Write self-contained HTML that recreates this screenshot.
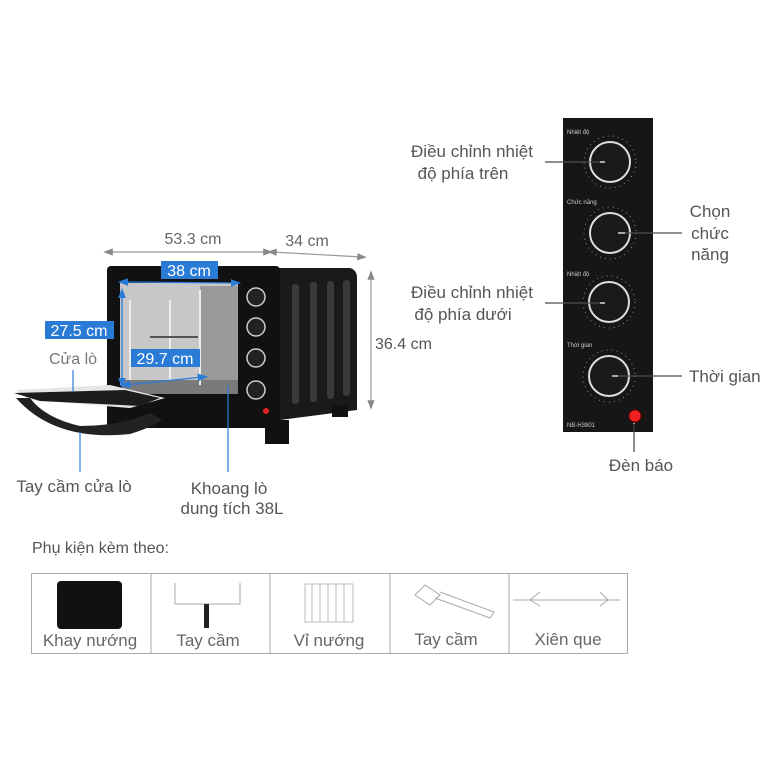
<!DOCTYPE html>
<html><head><meta charset="utf-8"><style>
body{margin:0;background:#fff;width:772px;height:772px;overflow:hidden}
svg{display:block}
text{font-family:"Liberation Sans",sans-serif}
</style></head><body>
<svg width="772" height="772" viewBox="0 0 772 772" xmlns="http://www.w3.org/2000/svg">
<defs>
<marker id="ag" markerWidth="8" markerHeight="8" refX="4" refY="4" orient="auto-start-reverse"><path d="M0,1 L8,4 L0,7 z" fill="#888"/></marker>
<marker id="ab" markerWidth="8" markerHeight="8" refX="4" refY="4" orient="auto-start-reverse"><path d="M0,1 L8,4 L0,7 z" fill="#2a7bd6"/></marker>
</defs>
<line x1="108" y1="252" x2="268" y2="252" stroke="#999" stroke-width="1.2" marker-start="url(#ag)" marker-end="url(#ag)"/>
<line x1="272" y1="252" x2="362" y2="257" stroke="#999" stroke-width="1.2" marker-start="url(#ag)" marker-end="url(#ag)"/>
<line x1="371" y1="275" x2="371" y2="405" stroke="#999" stroke-width="1.2" marker-start="url(#ag)" marker-end="url(#ag)"/>
<text x="193" y="244" font-size="16" fill="#666" text-anchor="middle">53.3 cm</text>
<text x="307" y="246" font-size="16" fill="#666" text-anchor="middle">34 cm</text>
<text x="375" y="349" font-size="16" fill="#555">36.4 cm</text>
<path d="M276,268 L350,268 Q357,270 357,278 L357,410 L280,420 Z" fill="#1a1a1a"/>
<g fill="#3a3a3a">
<rect x="292" y="284" width="7" height="120" rx="3"/><rect x="310" y="282" width="7" height="120" rx="3"/><rect x="327" y="281" width="7" height="118" rx="3"/><rect x="343" y="280" width="7" height="116" rx="3"/>
</g>
<rect x="332" y="405" width="16" height="12" fill="#111"/>
<rect x="107" y="266" width="173" height="162" rx="4" fill="#111"/>
<rect x="265" y="420" width="24" height="24" fill="#111"/>
<rect x="120" y="283" width="118" height="102" fill="#c8c8c8"/>
<rect x="200" y="286" width="38" height="96" fill="#9a9a9a"/>
<rect x="122" y="380" width="116" height="14" fill="#7a7a7a"/>
<g stroke="#eee" stroke-width="2"><line x1="130" y1="300" x2="130" y2="380"/><line x1="170" y1="300" x2="170" y2="380"/><line x1="200" y1="290" x2="200" y2="385"/></g>
<line x1="150" y1="337" x2="198" y2="337" stroke="#555" stroke-width="2"/>
<g fill="#222" stroke="#ccc" stroke-width="1.5">
<circle cx="256" cy="297" r="9"/><circle cx="256" cy="327" r="9"/><circle cx="256" cy="358" r="9"/><circle cx="256" cy="390" r="9"/>
</g>
<circle cx="266" cy="411" r="3" fill="#d22"/>
<path d="M16,390 L110,385 L165,398 L130,408 L30,400 Z" fill="#e6e6e6"/>
<path d="M14,393 L125,390 L160,398 L140,406 L40,401 Z" fill="#1c1c1c"/>
<path d="M16,398 Q55,442 130,434 Q150,428 162,420 L150,413 Q120,426 80,426 Q45,418 30,398 Z" fill="#222"/>
<line x1="123" y1="282" x2="236" y2="283" stroke="#2a7bd6" stroke-width="1.3" marker-start="url(#ab)" marker-end="url(#ab)"/>
<line x1="122" y1="293" x2="122" y2="383" stroke="#2a7bd6" stroke-width="1.3" marker-start="url(#ab)" marker-end="url(#ab)"/>
<line x1="125" y1="385" x2="203" y2="377" stroke="#2a7bd6" stroke-width="1.3" marker-start="url(#ab)" marker-end="url(#ab)"/>
<rect x="161" y="261" width="57" height="18" fill="#2a7bd6"/><text x="189" y="276" font-size="16" fill="#fff" text-anchor="middle">38 cm</text>
<rect x="45" y="321" width="69" height="18" fill="#2a7bd6"/><text x="79" y="336" font-size="16" fill="#fff" text-anchor="middle">27.5 cm</text>
<rect x="131" y="349" width="69" height="18" fill="#2a7bd6"/><text x="165" y="364" font-size="16" fill="#fff" text-anchor="middle">29.7 cm</text>
<text x="73" y="364" font-size="16" fill="#777" text-anchor="middle">Cửa lò</text>
<line x1="73" y1="370" x2="73" y2="392" stroke="#2a7bd6" stroke-width="1.2"/>
<line x1="80" y1="432" x2="80" y2="472" stroke="#2a7bd6" stroke-width="1.2"/>
<line x1="228" y1="385" x2="228" y2="472" stroke="#2a7bd6" stroke-width="1.2"/>
<text x="74" y="492" font-size="17" fill="#555" text-anchor="middle">Tay cầm cửa lò</text>
<text x="229" y="494" font-size="17" fill="#555" text-anchor="middle">Khoang lò</text>
<text x="232" y="514" font-size="17" fill="#555" text-anchor="middle">dung tích 38L</text>
<rect x="563" y="118" width="90" height="314" fill="#161616"/>
<g fill="#1a1a1a" stroke="#ddd" stroke-width="2">
<circle cx="610" cy="162" r="20"/><circle cx="610" cy="233" r="20"/><circle cx="609" cy="302" r="20"/><circle cx="609" cy="376" r="20"/>
</g>
<g fill="none" stroke="#888" stroke-width="1"><circle cx="610" cy="162" r="26" stroke-dasharray="1 4"/><circle cx="610" cy="233" r="26" stroke-dasharray="1 4"/><circle cx="609" cy="302" r="26" stroke-dasharray="1 4"/><circle cx="609" cy="376" r="26" stroke-dasharray="1 4"/></g>
<g fill="#ccc" font-size="6"><text x="567" y="134">Nhiệt độ</text><text x="567" y="204">Chức năng</text><text x="567" y="276">Nhiệt độ</text><text x="567" y="347">Thời gian</text><text x="567" y="427">NB-H3801</text></g>
<circle cx="635" cy="416" r="6" fill="#e22" stroke="#700"/>
<g stroke="#fff" stroke-width="1.2"><line x1="540" y1="162" x2="605" y2="162"/><line x1="618" y1="233" x2="682" y2="233"/><line x1="540" y1="303" x2="605" y2="303"/><line x1="612" y1="376" x2="682" y2="376"/><line x1="634" y1="423" x2="634" y2="452"/></g>
<g stroke="#222" stroke-width="1"><line x1="545" y1="162" x2="600" y2="162"/><line x1="625" y1="233" x2="682" y2="233"/><line x1="545" y1="303" x2="600" y2="303"/><line x1="618" y1="376" x2="682" y2="376"/><line x1="634" y1="424" x2="634" y2="452"/></g>
<g font-size="17" fill="#555">
<text x="472" y="157" text-anchor="middle">Điều chỉnh nhiệt</text><text x="463" y="179" text-anchor="middle">độ phía trên</text>
<text x="710" y="217" text-anchor="middle">Chọn</text><text x="710" y="239" text-anchor="middle">chức</text><text x="710" y="260" text-anchor="middle">năng</text>
<text x="472" y="298" text-anchor="middle">Điều chỉnh nhiệt</text><text x="463" y="320" text-anchor="middle">độ phía dưới</text>
<text x="689" y="382">Thời gian</text>
<text x="641" y="471" text-anchor="middle">Đèn báo</text>
<text x="32" y="553" font-size="16">Phụ kiện kèm theo:</text>
</g>
<rect x="31.5" y="573.5" width="596" height="80" fill="none" stroke="#aaa"/>
<g stroke="#aaa"><line x1="151" y1="573" x2="151" y2="654"/><line x1="270" y1="573" x2="270" y2="654"/><line x1="390" y1="573" x2="390" y2="654"/><line x1="509" y1="573" x2="509" y2="654"/></g>
<rect x="57" y="581" width="65" height="48" rx="4" fill="#111"/>
<path d="M175,583 L175,604 L240,604 L240,583" fill="none" stroke="#aaa"/><rect x="204" y="604" width="5" height="24" fill="#222"/>
<g stroke="#bbb"><rect x="305" y="584" width="48" height="38" fill="none"/><line x1="312" y1="584" x2="312" y2="622"/><line x1="320" y1="584" x2="320" y2="622"/><line x1="328" y1="584" x2="328" y2="622"/><line x1="336" y1="584" x2="336" y2="622"/><line x1="344" y1="584" x2="344" y2="622"/></g>
<g fill="none" stroke="#aaa"><path d="M415,595 L425,585 L440,595 L430,605 Z"/><path d="M435,598 L490,618 L494,612 L440,592"/></g>
<line x1="513" y1="600" x2="620" y2="600" stroke="#aaa"/>
<path d="M540,592 L530,600 L540,606 M600,592 L608,600 L600,606" fill="none" stroke="#aaa"/>
<g font-size="17" fill="#666" text-anchor="middle">
<text x="90" y="646">Khay nướng</text><text x="208" y="646">Tay cầm</text><text x="329" y="646">Vỉ nướng</text><text x="446" y="645">Tay cầm</text><text x="568" y="645">Xiên que</text>
</g>
</svg>
</body></html>
